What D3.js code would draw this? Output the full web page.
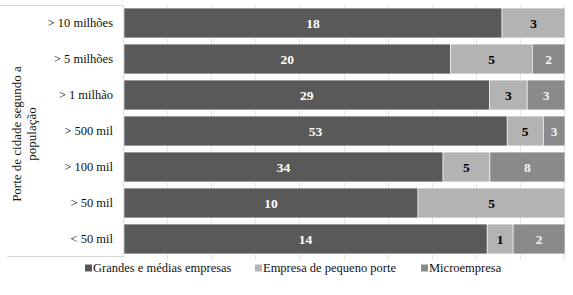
<!DOCTYPE html>
<html><head><meta charset="utf-8">
<script src="https://cdn.jsdelivr.net/npm/d3@7"></script>
<style>body{margin:0;background:#fff}svg{display:block}</style>
</head><body>
<svg id="c" width="573" height="295"></svg>
<script>
const categories = ["> 10 milhões", "> 5 milhões", "> 1 milhão", "> 500 mil", "> 100 mil", "> 50 mil", "< 50 mil"];
const seriesNames = ["Grandes e médias empresas", "Empresa de pequeno porte", "Microempresa"];
const grandes = [18, 20, 29, 53, 34, 10, 14];
const pequeno = [3, 5, 3, 5, 5, 5, 1];
const micro = [0, 2, 3, 3, 8, 0, 2];
const colors = ["#595959", "#b3b3b3", "#8a8a8a"];
const labelColors = ["#ffffff", "#000000", "#f2f2f2"];
const yTitle = ["Porte de cidade segundo a", "população"];

const svg = d3.select("#c");
const font = "Liberation Serif";
const x = d3.scaleLinear().domain([0, 1]).range([124, 565]);
const y = d3.scaleBand().domain(categories).range([5, 257]).paddingInner(0.17).paddingOuter(0.085);

// frame
svg.append("line").attr("x1", 0).attr("x2", 123.5).attr("y1", 5.5).attr("y2", 5.5).attr("stroke", "#d9d9d9");
svg.append("line").attr("x1", 7).attr("x2", 123.5).attr("y1", 256.5).attr("y2", 256.5).attr("stroke", "#d9d9d9");
svg.append("line").attr("x1", 123.5).attr("x2", 123.5).attr("y1", 5).attr("y2", 257).attr("stroke", "#d9d9d9");

// gridlines
svg.append("g").selectAll("line").data(d3.range(1, 11).map(i => i / 10)).join("line")
  .attr("x1", d => Math.round(x(d)) - 0.5).attr("x2", d => Math.round(x(d)) - 0.5)
  .attr("y1", 5).attr("y2", 260).attr("stroke", "#e3e3e3");

const data = categories.map((c, i) => {
  const vals = [grandes[i], pequeno[i], micro[i]];
  const tot = d3.sum(vals);
  let acc = 0;
  return vals.map((v, k) => { const s = { cat: c, k, v, x0: acc / tot, x1: (acc + v) / tot }; acc += v; return s; });
}).flat();

svg.append("g").selectAll("rect").data(data.filter(d => d.v > 0)).join("rect")
  .attr("x", d => x(d.x0)).attr("width", d => x(d.x1) - x(d.x0))
  .attr("y", d => y(d.cat)).attr("height", y.bandwidth())
  .attr("fill", d => colors[d.k]).attr("stroke", "#ffffff").attr("stroke-width", 0.6);

svg.append("g").selectAll("text").data(data.filter(d => d.v > 0)).join("text")
  .attr("x", d => (x(d.x0) + x(d.x1)) / 2).attr("y", d => y(d.cat) + y.bandwidth() / 2)
  .attr("dy", "0.35em").attr("text-anchor", "middle")
  .attr("font-family", font).attr("font-size", 13.5).attr("font-weight", "bold")
  .attr("fill", d => labelColors[d.k]).text(d => d.v);

// category labels
svg.append("g").selectAll("text").data(categories).join("text")
  .attr("x", 113).attr("y", d => y(d) + y.bandwidth() / 2).attr("dy", "0.35em")
  .attr("text-anchor", "end").attr("font-family", font).attr("font-size", 12.5).attr("fill", "#111")
  .text(d => d);

// y title
const yt = svg.append("text").attr("transform", "translate(21,134) rotate(-90)")
  .attr("text-anchor", "middle").attr("font-family", font).attr("font-size", 13).attr("fill", "#111");
yTitle.forEach((t, i) => yt.append("tspan").attr("x", 0).attr("y", i * 14.5).text(t));

// legend
const legX = [85, 255, 421];
const lg = svg.append("g").selectAll("g").data(seriesNames).join("g")
  .attr("transform", (d, i) => `translate(${legX[i]},268)`);
lg.append("rect").attr("x", 0).attr("y", -3.5).attr("width", 7).attr("height", 7).attr("fill", (d, i) => colors[i]);
lg.append("text").attr("x", 8).attr("y", 0).attr("dy", "0.35em").attr("font-family", font).attr("font-size", 12.5)
  .attr("fill", "#111").text(d => d);
</script>
</body></html>
